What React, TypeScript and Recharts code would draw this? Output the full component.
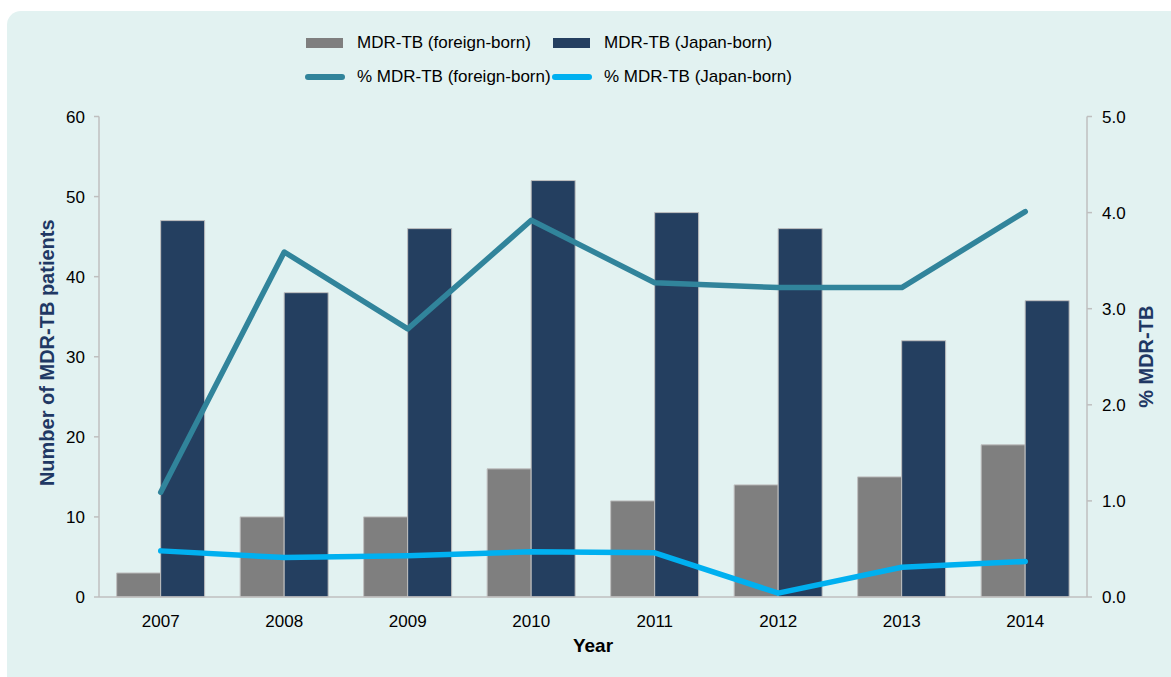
import React from 'react'
import {
  ComposedChart,
  Bar,
  Line,
  XAxis,
  YAxis,
  Legend,
} from 'recharts'

const years = ['2007', '2008', '2009', '2010', '2011', '2012', '2013', '2014']
const foreignBorn = [3, 10, 10, 16, 12, 14, 15, 19]
const japanBorn = [47, 38, 46, 52, 48, 46, 32, 37]
const pctForeign = [1.09, 3.59, 2.79, 3.92, 3.27, 3.22, 3.22, 4.01]
const pctJapan = [0.48, 0.41, 0.43, 0.47, 0.46, 0.04, 0.31, 0.37]
const leftTicks = [0, 10, 20, 30, 40, 50, 60]
const rightTicks = [0, 1, 2, 3, 4, 5]
const edgeTicks = [0, 1, 2, 3, 4, 5, 6, 7, 8]

const data = years.map((year, i) => ({
  year,
  foreign: foreignBorn[i],
  japan: japanBorn[i],
  pctForeign: pctForeign[i],
  pctJapan: pctJapan[i],
}))

const AXIS = '#bfbfbf'
const NAVY = '#243f60'
const GREY = '#7f7f7f'
const TEAL = '#31849b'
const CYAN = '#00b0f0'
const TITLE = '#1f3864'
const FONT = '"Liberation Sans", Arial, sans-serif'

const legendItems = [
  { label: 'MDR-TB (foreign-born)', color: GREY, kind: 'bar', col: 0, row: 0 },
  { label: 'MDR-TB (Japan-born)', color: NAVY, kind: 'bar', col: 1, row: 0 },
  { label: '% MDR-TB (foreign-born)', color: TEAL, kind: 'line', col: 0, row: 1 },
  { label: '% MDR-TB (Japan-born)', color: CYAN, kind: 'line', col: 1, row: 1 },
]

function LegendBox() {
  return (
    <div style={{ position: 'relative', width: 1171, height: 100, fontFamily: FONT }}>
      {legendItems.map((it) => {
        const left = it.col === 0 ? 305 : 552
        const top = it.row === 0 ? 43 : 77
        return (
          <div key={it.label} style={{ position: 'absolute', left, top: top - 12, height: 24, display: 'flex', alignItems: 'center' }}>
            {it.kind === 'bar' ? (
              <div style={{ width: 37, height: 10, marginLeft: 1, marginRight: 14, background: it.color }} />
            ) : (
              <div style={{ width: 40, height: 6, borderRadius: 3, marginRight: 12, background: it.color }} />
            )}
            <span style={{ fontSize: 17, color: '#000', whiteSpace: 'nowrap' }}>{it.label}</span>
          </div>
        )
      })}
    </div>
  )
}

function LeftTitle(props: any) {
  const { viewBox } = props
  const cx = viewBox.x + 47
  const cy = viewBox.y + viewBox.height / 2 - 4
  return (
    <text x={cx} y={cy} transform={`rotate(-90, ${cx}, ${cy})`} textAnchor="middle" dominantBaseline="central" fill={TITLE} fontSize={20} fontWeight="bold">
      Number of MDR-TB patients
    </text>
  )
}

function RightTitle(props: any) {
  const { viewBox } = props
  const cx = viewBox.x + 59
  const cy = viewBox.y + viewBox.height / 2
  return (
    <text x={cx} y={cy} transform={`rotate(-90, ${cx}, ${cy})`} textAnchor="middle" dominantBaseline="central" fill={TITLE} fontSize={20} fontWeight="bold">
      % MDR-TB
    </text>
  )
}

function XTitle(props: any) {
  const { viewBox } = props
  return (
    <text x={viewBox.x + viewBox.width / 2} y={viewBox.y + 48} textAnchor="middle" dominantBaseline="central" fill="#000" fontSize={19} fontWeight="bold">
      Year
    </text>
  )
}

export default function App() {
  return (
    <div style={{ position: 'fixed', left: 0, top: 0, width: 1171, height: 677, overflow: 'hidden', background: '#fff', fontFamily: FONT }}>
      <div style={{ position: 'absolute', left: 7, top: 11, width: 1200, height: 700, borderRadius: 14, background: '#e2f2f1' }} />
      <div style={{ position: 'absolute', left: 0, top: 0 }}>
        <ComposedChart
          width={1171}
          height={677}
          data={data}
          margin={{ top: 116.5, right: 0, bottom: 0, left: 0 }}
          barCategoryGap="14.3%"
          barGap={0}
        >
          <XAxis
            xAxisId="edge"
            type="number"
            domain={[0, 8]}
            ticks={edgeTicks}
            tick={false}
            tickSize={6}
            tickLine={{ stroke: AXIS, strokeWidth: 1.5 }}
            axisLine={false}
            height={0}
          />
          <XAxis
            dataKey="year"
            tickLine={false}
            axisLine={{ stroke: AXIS, strokeWidth: 1.5 }}
            tick={{ fill: '#000', fontSize: 17 }}
            tickMargin={12}
            height={80}
            label={<XTitle />}
          />
          <YAxis
            yAxisId="left"
            domain={[0, 60]}
            ticks={leftTicks}
            width={99}
            tickSize={5}
            tickMargin={9}
            tickLine={{ stroke: AXIS, strokeWidth: 1.5 }}
            axisLine={{ stroke: AXIS, strokeWidth: 1.5 }}
            tick={{ fill: '#000', fontSize: 17 }}
            label={<LeftTitle />}
          />
          <YAxis
            yAxisId="right"
            orientation="right"
            domain={[0, 5]}
            ticks={rightTicks}
            tickFormatter={(v: number) => v.toFixed(1)}
            width={84}
            tickSize={5}
            tickMargin={10}
            tickLine={{ stroke: AXIS, strokeWidth: 1.5 }}
            axisLine={{ stroke: AXIS, strokeWidth: 1.5 }}
            tick={{ fill: '#000', fontSize: 17 }}
            label={<RightTitle />}
          />
          <Legend verticalAlign="middle" align="center" layout="horizontal" wrapperStyle={{ top: 0, left: 0, width: 1171 }} content={() => <LegendBox />} />
          <Bar yAxisId="left" dataKey="foreign" name="MDR-TB (foreign-born)" fill={GREY} stroke={AXIS} strokeWidth={1} isAnimationActive={false} />
          <Bar yAxisId="left" dataKey="japan" name="MDR-TB (Japan-born)" fill={NAVY} stroke={AXIS} strokeWidth={1} isAnimationActive={false} />
          <Line yAxisId="right" type="linear" dataKey="pctForeign" name="% MDR-TB (foreign-born)" stroke={TEAL} strokeWidth={5.5} strokeLinecap="round" strokeLinejoin="round" dot={false} activeDot={false} isAnimationActive={false} />
          <Line yAxisId="right" type="linear" dataKey="pctJapan" name="% MDR-TB (Japan-born)" stroke={CYAN} strokeWidth={5.5} strokeLinecap="round" strokeLinejoin="round" dot={false} activeDot={false} isAnimationActive={false} />
        </ComposedChart>
      </div>
    </div>
  )
}
